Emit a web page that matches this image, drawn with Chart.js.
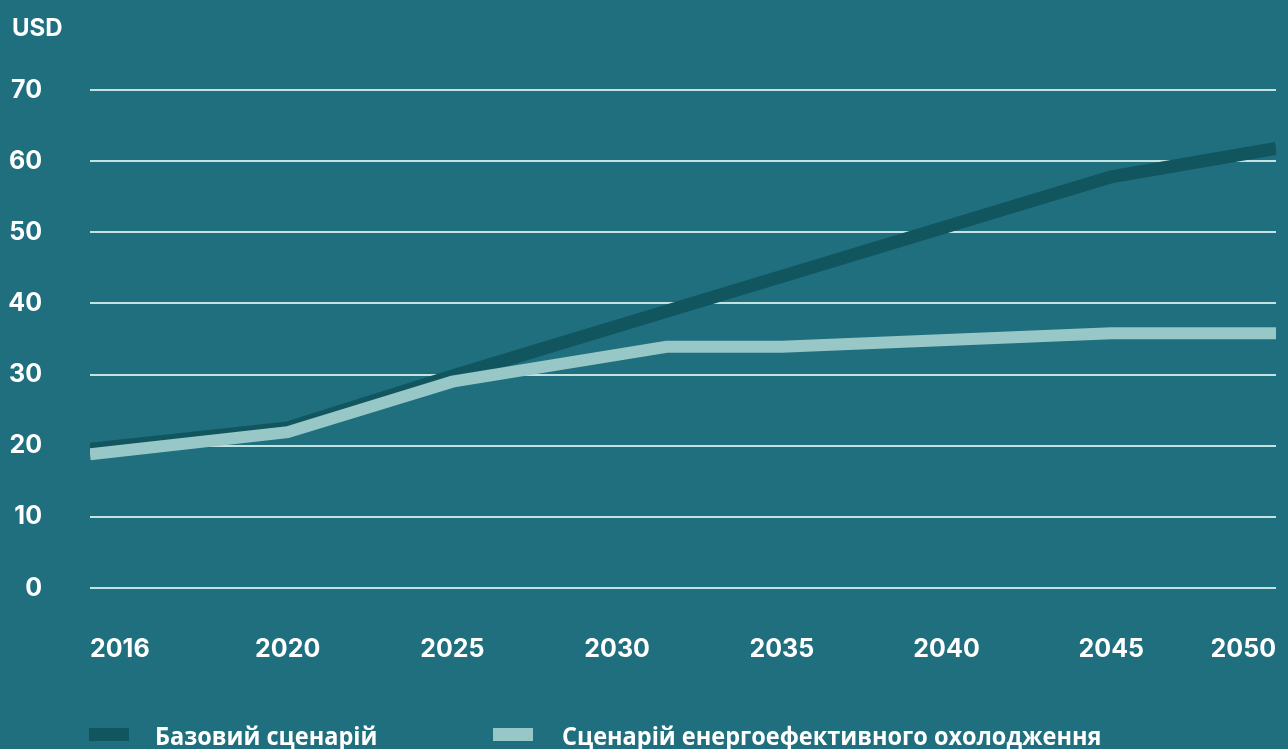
<!DOCTYPE html>
<html>
<head>
<meta charset="utf-8">
<script src="https://cdn.jsdelivr.net/npm/chart.js@4.4.0/dist/chart.umd.min.js"></script>
<style>
  html, body { margin: 0; padding: 0; background: #1f6f7f; }
  #wrap { position: relative; width: 1288px; height: 749px; overflow: hidden; background: #1f6f7f; }
  #chart { position: absolute; left: 0; top: 0; }
  .unit { position: absolute; left: 12px; top: 16px; color: #fff; font: 700 24px/24px Inter, sans-serif; }
  .legend-box { position: absolute; width: 40px; height: 13px; top: 728px; }
  .legend-text { position: absolute; top: 723px; color: #fff; white-space: nowrap;
                 font: 700 25px/25px "Open Sans", sans-serif; transform-origin: 0 0; transform: scaleX(0.94); }
</style>
</head>
<body>
<div id="wrap">
  <canvas id="chart" width="1276" height="749"></canvas>
  <div class="unit">USD</div>
  <div id="legend"></div>
</div>
<script>
// ---- data ----
const xTickYears = [2016, 2020, 2025, 2030, 2035, 2040, 2045, 2050];
const yTicks = [0, 10, 20, 30, 40, 50, 60, 70];

const baseLabel = "Базовий сценарій";
const baseYears = [2016, 2020, 2025, 2045, 2050];
const baseValues = [19.5, 22.5, 29.8, 57.8, 61.8];

const effLabel = "Сценарій енергоефективного охолодження";
const effYears = [2016, 2020, 2025, 2031.5, 2035, 2045, 2050];
const effValues = [18.8, 21.9, 29.0, 33.9, 33.9, 35.8, 35.8];

const BASE_COLOR = "#11565f";
const EFF_COLOR = "#97c7c7";
const GRID_COLOR = "#c3e2e2";

// the source axis draws the 2016 -> 2020 step a little wider than the 5-year steps
function yearPos(year) {
    return year <= 2020 ? (year - 2016) / 4 * 1.2 : 1.2 + (year - 2020) / 5;
}

function toPoints(years, values) {
    return years.map((yr, i) => ({ x: yearPos(yr), y: values[i] }));
}

const tickFont = { family: "Inter", weight: "700", size: 25 };

new Chart(document.getElementById("chart"), {
    type: "line",
    data: {
        datasets: [
            {
                label: baseLabel,
                data: toPoints(baseYears, baseValues),
                borderColor: BASE_COLOR,
                borderWidth: 13,
                borderJoinStyle: "miter",
                pointRadius: 0,
                order: 1
            },
            {
                label: effLabel,
                data: toPoints(effYears, effValues),
                borderColor: EFF_COLOR,
                borderWidth: 12,
                borderJoinStyle: "miter",
                pointRadius: 0,
                order: 0
            }
        ]
    },
    options: {
        responsive: false,
        animation: false,
        events: [],
        layout: { padding: { top: 90, right: 0, left: 0, bottom: 0 } },
        plugins: {
            legend: { display: false },
            tooltip: { enabled: false }
        },
        scales: {
            x: {
                type: "linear",
                min: 0,
                max: yearPos(2050),
                afterBuildTicks: (scale) => {
                    scale.ticks = xTickYears.map(yr => ({ value: yearPos(yr) }));
                },
                afterFit: (scale) => {
                    scale.height = 749 - 588;
                    // labels are aligned inward, so no side room is needed
                    scale.paddingLeft = 0;
                    scale.paddingRight = 0;
                },
                grid: { display: false },
                border: { display: false },
                ticks: {
                    color: "#fff",
                    font: tickFont,
                    padding: 38,
                    align: "inner",
                    autoSkip: false,
                    maxRotation: 0,
                    callback: (value, index) => String(xTickYears[index])
                }
            },
            y: {
                min: 0,
                max: 70,
                afterBuildTicks: (scale) => {
                    scale.ticks = yTicks.map(v => ({ value: v }));
                },
                afterFit: (scale) => { scale.width = 90; },
                grid: { color: GRID_COLOR, lineWidth: 2, drawTicks: false },
                border: { display: false },
                ticks: {
                    color: "#fff",
                    font: tickFont,
                    padding: 48
                }
            }
        }
    }
});

// legend, drawn as text in the page
const legendItems = [
    { label: baseLabel, color: BASE_COLOR, boxX: 89, textX: 155 },
    { label: effLabel, color: EFF_COLOR, boxX: 493, textX: 562 }
];
const legendEl = document.getElementById("legend");
legendItems.forEach(item => {
    const box = document.createElement("div");
    box.className = "legend-box";
    box.style.left = item.boxX + "px";
    box.style.background = item.color;
    legendEl.appendChild(box);
    const txt = document.createElement("div");
    txt.className = "legend-text";
    txt.style.left = item.textX + "px";
    txt.textContent = item.label;
    legendEl.appendChild(txt);
});
</script>
</body>
</html>
